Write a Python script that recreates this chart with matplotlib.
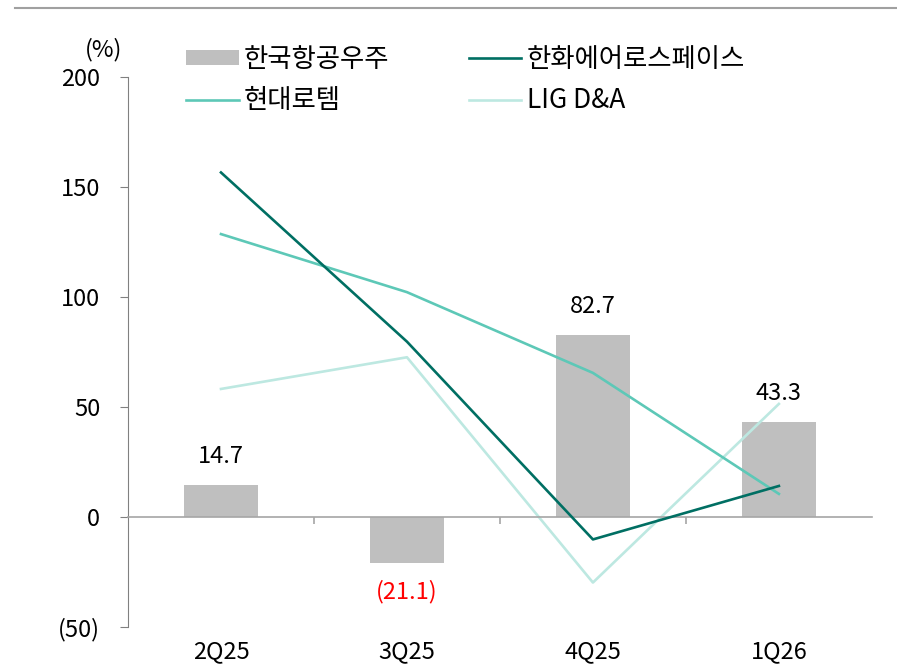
import matplotlib.pyplot as plt
from matplotlib.lines import Line2D

plt.rcParams['font.family'] = ['Noto Sans CJK KR', 'DejaVu Sans']

quarters = ["2Q25", "3Q25", "4Q25", "1Q26"]
kai = [14.7, -21.1, 82.7, 43.3]          # 한국항공우주 (bar)
hanwha = [156.6, 79.7, -10.2, 14.1]      # 한화에어로스페이스
rotem = [128.6, 102.2, 65.5, 10.5]       # 현대로템
lig = [58.2, 72.6, -29.8, 51.4]          # LIG D&A
yticks = [-50, 0, 50, 100, 150, 200]
ylabels = ["(50)", "0", "50", "100", "150", "200"]

fs = 17

fig = plt.figure(figsize=(8.97, 6.69), dpi=100)
ax = fig.add_axes([0.1427, 0.0628, 0.8293, 0.8221])

x = list(range(len(quarters)))
ax.bar(x, kai, width=0.4, color="#BFBFBF", label="한국항공우주", zorder=1)
ax.plot(x, rotem, color="#5DC8B7", lw=1.9, label="현대로템", zorder=3)
ax.plot(x, hanwha, color="#006F63", lw=1.9, label="한화에어로스페이스", zorder=4)
ax.plot(x, lig, color="#BDE8E1", lw=1.9, label="LIG D&A", zorder=2)

# 데이터 라벨
for i, v in enumerate(kai):
    if v >= 0:
        ax.annotate(f"{v:.1f}", (i, v), xytext=(0, 12), textcoords="offset points",
                    ha="center", va="bottom", fontsize=fs)
    else:
        ax.annotate(f"({-v:.1f})", (i, v), xytext=(0, -12), textcoords="offset points",
                    ha="center", va="top", fontsize=fs, color="red")

ax.set_xlim(-0.5, 3.5)
ax.set_ylim(-50, 200)
ax.set_yticks(yticks)
ax.set_yticklabels(ylabels, fontsize=fs)
ax.set_xticks([0.5, 1.5, 2.5])
ax.set_xticklabels([])
ax.tick_params(axis="x", length=5, color="#A6A6A6", width=1.2)
ax.tick_params(axis="y", length=6, color="#808080", pad=14)

for s in ["top", "right"]:
    ax.spines[s].set_visible(False)
ax.spines["left"].set_color("#808080")
ax.spines["bottom"].set_position(("data", 0))
ax.spines["bottom"].set_color("#A6A6A6")
ax.spines["bottom"].set_linewidth(1.2)

# x축 라벨은 아래쪽에
for q, xi in zip(quarters, x):
    ax.text(xi, -56, q, ha="center", va="top", fontsize=fs, clip_on=False)

fig.text(0.116, 0.926, "(%)", ha="center", va="center", fontsize=fs)

handles, labels = ax.get_legend_handles_labels()
order = [labels.index(l) for l in ["한국항공우주", "현대로템", "한화에어로스페이스", "LIG D&A"]]
ax.legend([handles[i] for i in order], [labels[i] for i in order], ncol=2,
          loc="upper left", bbox_to_anchor=(0.046, 1.10), frameon=False, fontsize=19,
          handlelength=2.0, handleheight=0.5, handletextpad=0.2, columnspacing=3.0,
          labelspacing=0.55)

fig.add_artist(Line2D([0.017, 1.0], [0.988, 0.988], color="#A0A0A0", lw=1.5))

fig.savefig("out.png", dpi=100)
